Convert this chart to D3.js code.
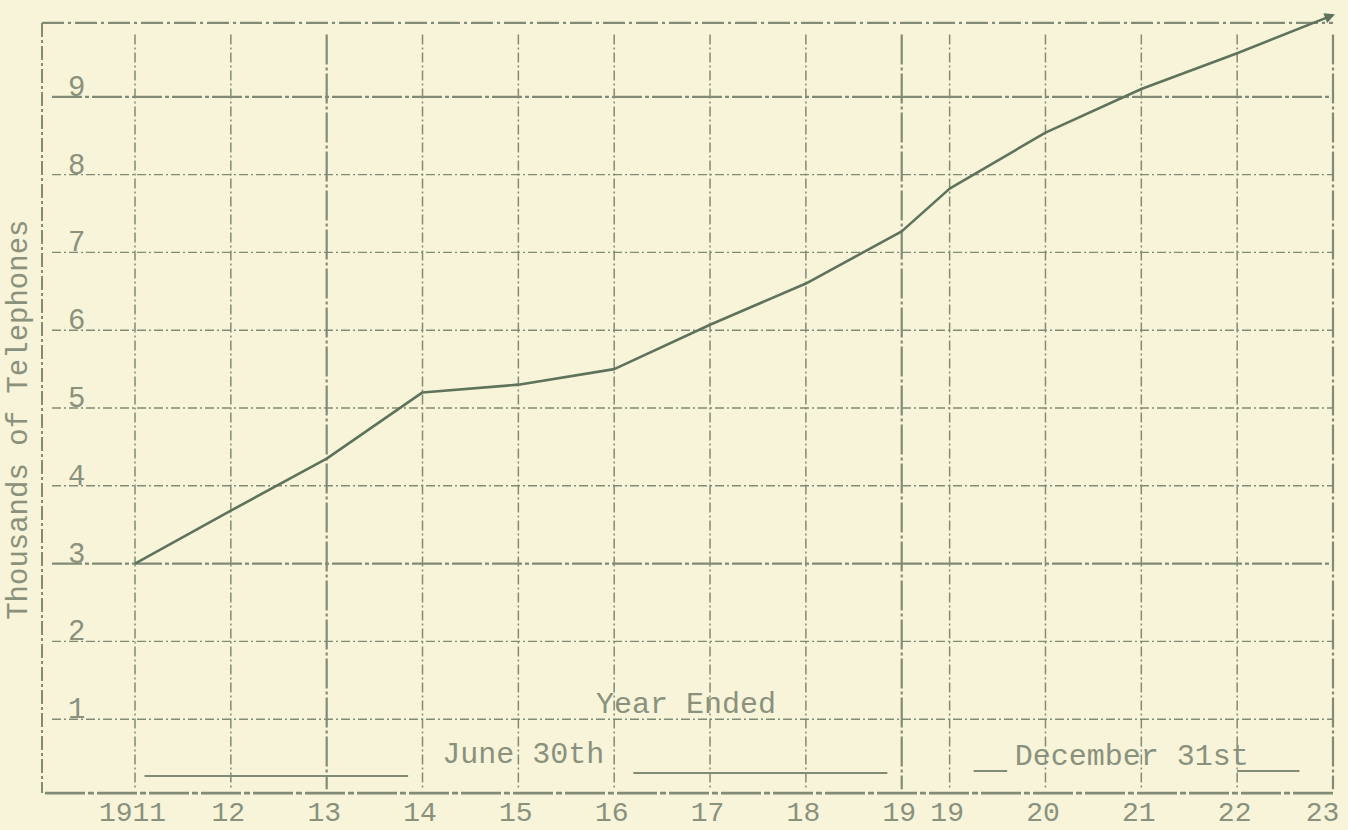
<!DOCTYPE html>
<html>
<head>
<meta charset="utf-8">
<script src="https://cdn.jsdelivr.net/npm/d3@7"></script>
<style>
  body { margin: 0; background: #f7f4da; }
  svg { display: block; }
  text { font-family: "Liberation Mono", "DejaVu Sans Mono", monospace; fill: #8a917c; }
</style>
</head>
<body>
<div id="chart"></div>
<script>
// Years ended: June 30th up to 1919, then December 31st
const periods = [1911, 1912, 1913, 1914, 1915, 1916, 1917, 1918, 1919,
  1919.5, 1920.5, 1921.5, 1922.5, 1923.5];
const periodLabels = ['1911', '12', '13', '14', '15', '16', '17', '18', '19',
  '19', '20', '21', '22', '23'];
// Thousands of telephones
const telephones = [3.0, 3.68, 4.35, 5.2, 5.3, 5.5, 6.07, 6.6, 7.27,
  7.82, 8.54, 9.1, 9.56, 10.05];
const yTicks = [1, 2, 3, 4, 5, 6, 7, 8, 9];

const width = 1348;
const height = 830;
const ink = '#818b76';
const lineInk = '#5f735c';

const svg = d3.select('#chart').append('svg')
    .attr('width', width)
    .attr('height', height);

svg.append('rect')
    .attr('width', width)
    .attr('height', height)
    .attr('fill', '#f7f4da');

const x = d3.scaleLinear().domain([1911, 1923.5]).range([135, 1333]);
const y = d3.scaleLinear().domain([0, 10]).range([797, 19]);

// Frame
const frame = svg.append('g').attr('class', 'frame')
    .attr('stroke', ink)
    .attr('fill', 'none');
frame.append('line')
    .attr('x1', 42).attr('x2', 42).attr('y1', y(9.95)).attr('y2', y(0.05))
    .attr('stroke-width', 2).attr('stroke-dasharray', '14,3,3,3');
frame.append('line')
    .attr('x1', 42).attr('x2', x(1923.5)).attr('y1', y(9.95)).attr('y2', y(9.95))
    .attr('stroke-width', 2.2).attr('stroke-dasharray', '22,4,3,4');
frame.append('line')
    .attr('x1', 45).attr('x2', x(1923.5)).attr('y1', y(0.05)).attr('y2', y(0.05))
    .attr('stroke-width', 2.6).attr('stroke-dasharray', '40,3,6,3');

// Horizontal grid
const heavyRows = [3, 9];
svg.append('g').attr('class', 'hgrid')
  .selectAll('line')
    .data(yTicks)
  .enter().append('line')
    .attr('x1', 52)
    .attr('x2', x(1923.5))
    .attr('y1', d => y(d))
    .attr('y2', d => y(d))
    .attr('stroke', ink)
    .attr('stroke-width', d => heavyRows.includes(d) ? 2.2 : 1.4)
    .attr('stroke-dasharray', d => heavyRows.includes(d) ? '30,3,4,3' : '9,3,2,3');

// Vertical grid
const heavyCols = [1913, 1919, 1923.5];
svg.append('g').attr('class', 'vgrid')
  .selectAll('line')
    .data(periods)
  .enter().append('line')
    .attr('x1', d => x(d))
    .attr('x2', d => x(d))
    .attr('y1', y(9.8))
    .attr('y2', y(0.1))
    .attr('stroke', ink)
    .attr('stroke-width', d => heavyCols.includes(d) ? 2.2 : 1.5)
    .attr('stroke-dasharray', d => heavyCols.includes(d) ? '30,3,3,3' : '10,3,2,3');

// X axis labels
const xAxis = d3.axisBottom(x)
    .tickValues(periods)
    .tickFormat((d, i) => periodLabels[i])
    .tickSize(0)
    .tickPadding(0);
svg.append('g')
    .attr('transform', 'translate(-3, 0)')
    .call(xAxis)
    .call(g => g.select('.domain').remove())
    .selectAll('text')
    .attr('y', 821)
    .attr('dy', null)
    .attr('font-size', 28)
    .attr('font-family', null)
    .attr('fill', null)
    .filter((d, i) => i === periods.length - 1)
    .attr('dx', -8);

// Y axis labels, typed above their grid lines
const yAxis = d3.axisLeft(y)
    .tickValues(yTicks)
    .tickSize(0)
    .tickPadding(0);
svg.append('g')
    .attr('transform', 'translate(68, 0)')
    .call(yAxis)
    .call(g => g.select('.domain').remove())
    .selectAll('text')
    .attr('x', 0)
    .attr('dy', '-0.05em')
    .style('text-anchor', 'start')
    .attr('font-size', 29)
    .attr('font-family', null)
    .attr('fill', null);

// Y title
svg.append('text')
    .attr('transform', `translate(27, ${y(4.85)}) rotate(-90)`)
    .attr('text-anchor', 'middle')
    .attr('font-size', 29)
    .text('Thousands of Telephones');

// Year ended notes
svg.append('text')
    .attr('x', x(1916.75))
    .attr('y', y(1) - 6)
    .attr('text-anchor', 'middle')
    .attr('font-size', 30)
    .text('Year Ended');
svg.append('text')
    .attr('x', x(1915.05))
    .attr('y', 763)
    .attr('text-anchor', 'middle')
    .attr('font-size', 30)
    .text('June 30th');
svg.append('text')
    .attr('x', x(1921.4))
    .attr('y', 765)
    .attr('text-anchor', 'middle')
    .attr('font-size', 30)
    .text('December 31st');

const underline = svg.append('g')
    .attr('stroke', ink)
    .attr('stroke-width', 2);
[[1911.1, 1913.85, 776], [1916.2, 1918.85, 773], [1919.75, 1920.1, 771],
  [1922.5, 1923.15, 771]].forEach(([a, b, yy]) => {
  underline.append('line')
      .attr('x1', x(a)).attr('x2', x(b))
      .attr('y1', yy).attr('y2', yy);
});

// Data line
svg.append('defs').append('marker')
    .attr('id', 'arrow')
    .attr('viewBox', '0 0 10 10')
    .attr('refX', 8)
    .attr('refY', 5)
    .attr('markerWidth', 5)
    .attr('markerHeight', 4)
    .attr('orient', 'auto')
  .append('path')
    .attr('d', 'M0,0L10,5L0,10z')
    .attr('fill', lineInk);

const line = d3.line()
    .x((d, i) => x(periods[i]))
    .y(d => y(d));

svg.append('path')
    .datum(telephones)
    .attr('d', line)
    .attr('fill', 'none')
    .attr('stroke', lineInk)
    .attr('stroke-width', 2.6)
    .attr('stroke-linejoin', 'round')
    .attr('marker-end', 'url(#arrow)');
</script>
</body>
</html>
